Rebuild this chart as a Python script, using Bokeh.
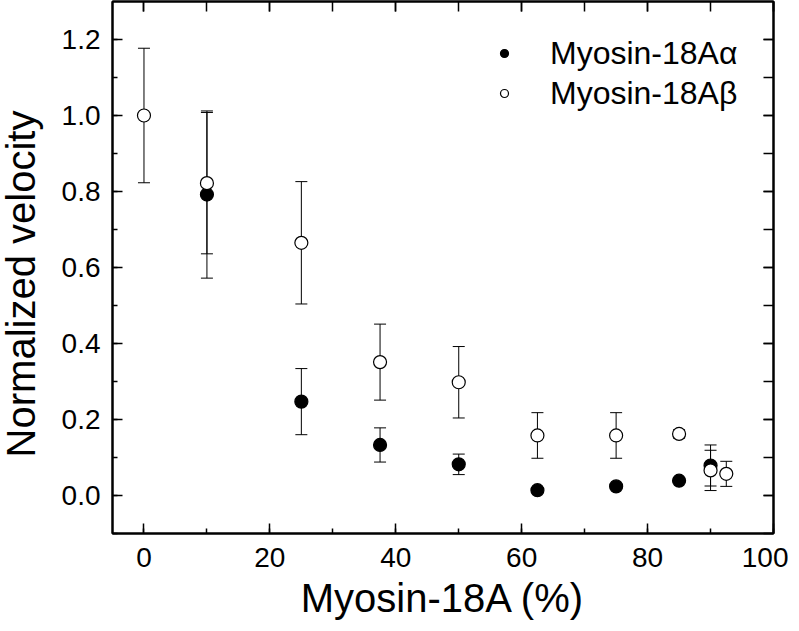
import math
from bokeh.plotting import figure
from bokeh.layouts import row
from bokeh.core.properties import value
from bokeh.models import (ColumnDataSource, Whisker, TeeHead, SingleIntervalTicker,
                          NumeralTickFormatter, LinearAxis, CustomJSTickFormatter, Legend, LegendItem)
from bokeh.embed import file_html
from bokeh.resources import INLINE

# ---- data ----
x_alpha = [10, 25, 37.5, 50, 62.5, 75, 85, 90]
y_alpha = [0.792, 0.247, 0.133, 0.082, 0.014, 0.024, 0.039, 0.079]
err_alpha = [0.220, 0.087, 0.045, 0.027, 0.004, 0.004, 0.004, 0.054]

x_beta = [0, 10, 25, 37.5, 50, 62.5, 75, 85, 90, 92.5]
y_beta = [1.000, 0.822, 0.665, 0.351, 0.298, 0.158, 0.158, 0.162, 0.066, 0.057]
err_beta = [0.177, 0.186, 0.161, 0.100, 0.094, 0.060, 0.060, 0.011, 0.053, 0.033]

label_alpha = "Myosin-18A\u03b1"
label_beta = "Myosin-18A\u03b2"
x_title = "Myosin-18A (%)"
y_title = "Normalized velocity"

FONT = "Liberation Sans"
TOTAL_H = 623
TITLE_W = 52

src_a = ColumnDataSource(dict(x=x_alpha, y=y_alpha,
                              lo=[v - e for v, e in zip(y_alpha, err_alpha)],
                              hi=[v + e for v, e in zip(y_alpha, err_alpha)]))
src_b = ColumnDataSource(dict(x=x_beta, y=y_beta,
                              lo=[v - e for v, e in zip(y_beta, err_beta)],
                              hi=[v + e for v, e in zip(y_beta, err_beta)]))

# narrow strip holding the rotated y-axis title
t = figure(x_range=(0, TITLE_W), y_range=(0, TOTAL_H),
           frame_width=TITLE_W, frame_height=TOTAL_H,
           min_border_left=0, min_border_right=0, min_border_top=0, min_border_bottom=0,
           x_axis_location=None, y_axis_location=None,
           output_backend="svg", toolbar_location=None)
t.grid.visible = False
t.outline_line_color = None
t.background_fill_color = "white"
t.border_fill_color = "white"
t.text(x=[20], y=[TOTAL_H - 282.5], text=[y_title], angle=math.pi / 2,
       text_align="center", text_baseline="alphabetic",
       text_font=value(FONT), text_font_size=value("40px"), text_color="black")

p = figure(x_range=(-5, 100), y_range=(-0.1, 1.3),
           frame_width=661, frame_height=532,
           min_border_left=112 - TITLE_W, min_border_top=1, min_border_right=15,
           min_border_bottom=TOTAL_H - 533,
           output_backend="svg", toolbar_location=None)
p.grid.visible = False
p.outline_line_color = "black"
p.outline_line_width = 2
p.background_fill_color = "white"
p.border_fill_color = "white"

def style_axis(ax, minor_len=5):
    ax.axis_line_color = "black"
    ax.axis_line_width = 2
    ax.major_tick_in = 10
    ax.major_tick_out = 0
    ax.minor_tick_in = minor_len
    ax.minor_tick_out = 0
    ax.major_tick_line_color = "black"
    ax.minor_tick_line_color = "black"
    ax.major_tick_line_width = 1.5
    ax.minor_tick_line_width = 1.5
    ax.major_label_text_font = FONT
    ax.major_label_text_font_size = "28px"
    ax.major_label_text_color = "black"
    ax.axis_label_text_font = FONT
    ax.axis_label_text_font_size = "40px"
    ax.axis_label_text_font_style = "normal"
    ax.axis_label_text_color = "black"

xa = p.xaxis[0]
ya = p.yaxis[0]
xa.ticker = SingleIntervalTicker(interval=20, num_minor_ticks=2)
ya.ticker = SingleIntervalTicker(interval=0.2, num_minor_ticks=2)
ya.formatter = NumeralTickFormatter(format="0.0")
style_axis(xa)
style_axis(ya)
xa.axis_label = x_title
xa.major_label_standoff = 14
ya.major_label_standoff = 12
xa.axis_label_standoff = 6

blank = CustomJSTickFormatter(code="return ''")
top = LinearAxis(ticker=SingleIntervalTicker(interval=20, num_minor_ticks=2), formatter=blank)
right = LinearAxis(ticker=SingleIntervalTicker(interval=0.2, num_minor_ticks=2), formatter=blank)
style_axis(top, minor_len=10)
style_axis(right, minor_len=10)
for ax in (top, right):
    ax.major_label_standoff = 0
    ax.major_label_text_font_size = "1px"
p.add_layout(top, "above")
p.add_layout(right, "right")

head = dict(size=12, line_color="black", line_width=1)
p.add_layout(Whisker(source=src_b, base="x", lower="lo", upper="hi", dimension="height",
                     line_color="black", line_width=1,
                     lower_head=TeeHead(**head), upper_head=TeeHead(**head)))
p.add_layout(Whisker(source=src_a, base="x", lower="lo", upper="hi", dimension="height",
                     line_color="black", line_width=1,
                     lower_head=TeeHead(**head), upper_head=TeeHead(**head)))

ra = p.scatter("x", "y", source=src_a, size=13, marker="circle",
               fill_color="black", line_color="black", line_width=1.2)
rb = p.scatter("x", "y", source=src_b, size=13, marker="circle",
               fill_color="white", line_color="black", line_width=1.2)

legend = Legend(items=[LegendItem(label=label_alpha, renderers=[ra]),
                       LegendItem(label=label_beta, renderers=[rb])],
                location=(382, 420))
legend.border_line_color = None
legend.background_fill_alpha = 0
legend.label_text_font = FONT
legend.label_text_font_size = "32px"
legend.label_text_color = "black"
legend.glyph_width = 20
legend.glyph_height = 40
legend.label_height = 40
legend.label_standoff = 36
legend.spacing = 0
legend.margin = 0
legend.padding = 14
p.add_layout(legend)

layout = row(t, p, spacing=0)
open("out.html", "w").write(file_html(layout, INLINE))
